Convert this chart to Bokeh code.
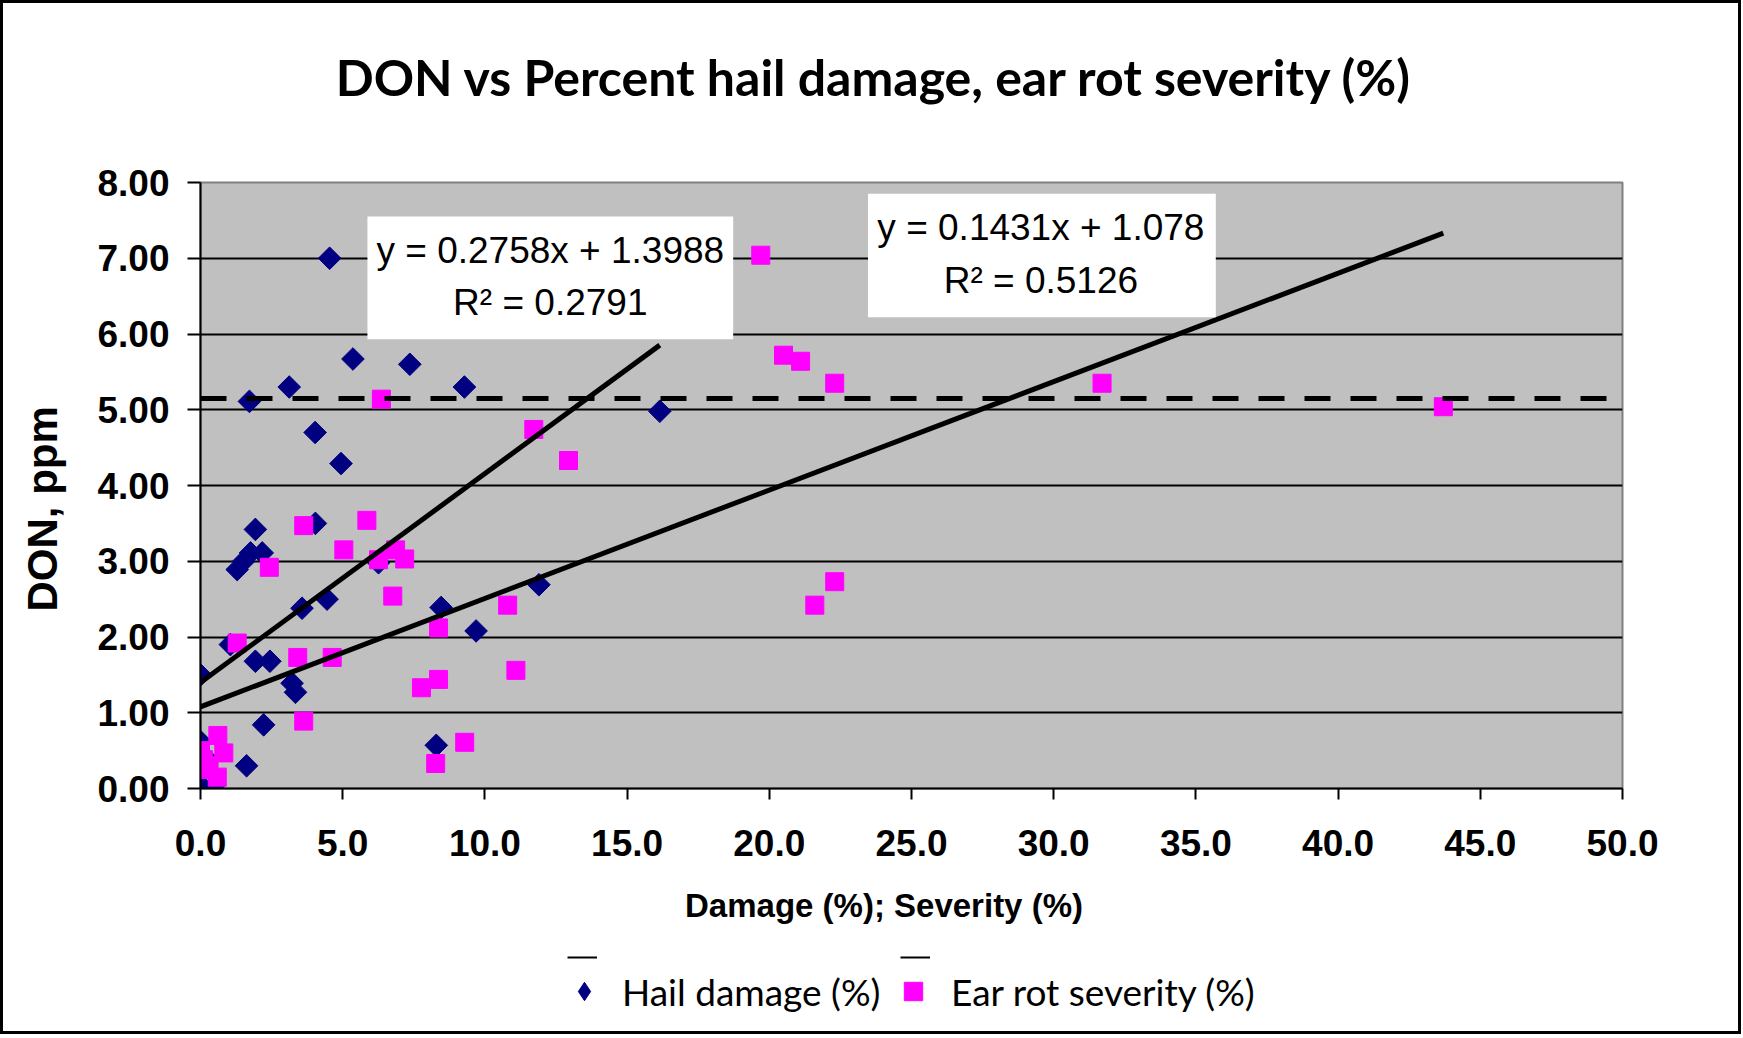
import numpy as np
from bokeh.plotting import figure
from bokeh.layouts import column
from bokeh.models import (Range1d, FixedTicker, NumeralTickFormatter, Label,
                          BoxAnnotation, Legend, LegendItem)
from bokeh.embed import file_html
from bokeh.resources import INLINE

# ---- data ----
hail_x = [4.54, 5.36, 7.36, 3.12, 9.28, 1.72, 16.15, 4.03, 4.94, 1.93, 4.04,
          1.76, 2.17, 1.52, 1.29, 6.26, 4.45, 3.57, 8.46, 11.9, 9.69, 1.05,
          1.93, 2.44, 0.0, 3.22, 3.34, 2.22, 8.29, 1.62, 0.0, 0.0, 0.5, 0.2, 0.0]
hail_y = [7.00, 5.67, 5.60, 5.30, 5.30, 5.11, 4.98, 4.70, 4.29, 3.42, 3.50,
          3.11, 3.11, 3.00, 2.89, 2.98, 2.50, 2.38, 2.39, 2.69, 2.08, 1.90,
          1.68, 1.68, 1.50, 1.39, 1.27, 0.84, 0.57, 0.30, 0.62, 0.05, 0.05, 0.40, 0.30]

rot_x = [19.7, 20.5, 21.1, 22.3, 31.7, 43.7, 6.36, 11.72, 12.94, 3.63, 5.85,
         5.04, 2.42, 6.26, 6.86, 7.18, 6.76, 10.8, 8.37, 1.29, 3.42, 4.63,
         11.09, 8.37, 7.77, 3.63, 9.29, 8.27, 22.3, 21.6, 0.61, 0.82, 0.0,
         0.0, 0.59, 0.3, 0.1]
rot_y = [7.04, 5.72, 5.64, 5.35, 5.35, 5.04, 5.14, 4.74, 4.33, 3.47, 3.54,
         3.15, 2.92, 3.02, 3.15, 3.03, 2.54, 2.42, 2.12, 1.92, 1.73, 1.73,
         1.56, 1.44, 1.33, 0.89, 0.61, 0.33, 2.73, 2.42, 0.70, 0.47, 0.50,
         0.25, 0.15, 0.30, 0.38]

hail_slope, hail_intercept, hail_r2 = 0.2758, 1.3988, 0.2791
rot_slope, rot_intercept, rot_r2 = 0.1431, 1.078, 0.5126
threshold_don = 5.15

x_ticks = [0, 5, 10, 15, 20, 25, 30, 35, 40, 45, 50]
y_ticks = [0, 1, 2, 3, 4, 5, 6, 7, 8]

title_text = "DON vs Percent hail damage, ear rot severity (%)"
x_title = "Damage (%); Severity (%)"
y_title = "DON, ppm"
hail_name = "Hail damage (%)"
rot_name = "Ear rot severity (%)"

NB = "\u00a0"
ARIAL = "Liberation Sans"
CAL = "Lato"
EDGE = "3px solid black"
BL, BR = 197, 122          # left / right borders shared by all strips
W = 1741

# ---------------- title strip ----------------
ts = figure(width=W, height=140, output_backend="svg", toolbar_location=None,
            x_axis_type=None, y_axis_type=None,
            x_range=Range1d(0, 1422), y_range=Range1d(0, 140),
            min_border_left=BL, min_border_right=BR, min_border_top=0,
            min_border_bottom=0, outline_line_color=None,
            background_fill_color="white", border_fill_color="white",
            styles={"border-left": EDGE, "border-right": EDGE, "border-top": EDGE})
ts.xgrid.grid_line_color = None
ts.ygrid.grid_line_color = None
ts.add_layout(Label(x=674, y=67, text=title_text, text_align="center",
                    text_baseline="middle", text_font=CAL, text_font_style="bold",
                    text_font_size="50px", text_color="black"))

# ---------------- main chart ----------------
p = figure(width=W, height=795, title=None,
           x_range=Range1d(x_ticks[0], x_ticks[-1]),
           y_range=Range1d(y_ticks[0], y_ticks[-1]),
           output_backend="svg", toolbar_location=None,
           min_border_left=BL, min_border_right=BR,
           min_border_top=42, min_border_bottom=147,
           background_fill_color="#C0C0C0", border_fill_color="white",
           outline_line_color="#808080", outline_line_width=2,
           styles={"border-left": EDGE, "border-right": EDGE})

# grid
p.xgrid.grid_line_color = None
p.ygrid.ticker = FixedTicker(ticks=y_ticks[1:-1])
p.ygrid.grid_line_color = "black"
p.ygrid.grid_line_width = 2

# axes
for ax in (p.xaxis[0], p.yaxis[0]):
    ax.axis_line_color = "black"
    ax.axis_line_width = 2
    ax.major_tick_line_color = "black"
    ax.major_tick_line_width = 2
    ax.major_tick_in = 0
    ax.minor_tick_line_color = None
    ax.major_label_text_font = ARIAL
    ax.major_label_text_font_style = "bold"
    ax.major_label_text_font_size = "37px"
    ax.major_label_text_color = "black"
    ax.axis_label_text_color = "black"
    ax.axis_label_text_font = ARIAL
    ax.axis_label_text_font_style = "bold"

p.xaxis.ticker = FixedTicker(ticks=x_ticks)
p.xaxis.formatter = NumeralTickFormatter(format="0.0")
p.xaxis.major_tick_out = 11
p.xaxis.major_label_standoff = 30
p.xaxis.axis_label = x_title + NB * 6
p.xaxis.axis_label_text_font_size = "33px"
p.xaxis.axis_label_standoff = 28

p.yaxis.ticker = FixedTicker(ticks=y_ticks)
p.yaxis.formatter = NumeralTickFormatter(format="0.00")
p.yaxis.major_tick_out = 13
p.yaxis.major_label_standoff = 18
p.yaxis.axis_label = y_title + NB * 4
p.yaxis.axis_label_text_font_size = "42px"
p.yaxis.axis_label_standoff = 28

# points
p.scatter(hail_x, hail_y, marker="square", angle=np.pi / 4, size=16,
          fill_color="#000080", line_color="#000080")
p.scatter(rot_x, rot_y, marker="square", size=18,
          fill_color="#FF00FF", line_color="#FF00FF")

# trend lines
hx = np.array([min(hail_x), max(hail_x)])
rx = np.array([min(rot_x), max(rot_x)])
p.line(hx, hail_slope * hx + hail_intercept, line_color="black", line_width=5)
p.line(rx, rot_slope * rx + rot_intercept, line_color="black", line_width=5)

# threshold dashed line
p.line([x_ticks[0], x_ticks[-1]], [threshold_don, threshold_don],
       line_color="black", line_width=5, line_dash="26 20")

# equation boxes
p.add_layout(BoxAnnotation(left=5.87, right=18.73, top=7.55, bottom=5.93,
                           fill_color="white", fill_alpha=1, line_color=None))
p.add_layout(BoxAnnotation(left=23.47, right=35.7, top=7.85, bottom=6.22,
                           fill_color="white", fill_alpha=1, line_color=None))

def eq_labels(xc, y1, y2, slope, intercept, r2):
    for yy, txt in ((y1, f"y = {slope}x + {intercept}"), (y2, f"R\u00b2 = {r2}")):
        p.add_layout(Label(x=xc, y=yy, text=txt, text_align="center",
                           text_baseline="middle", text_font=ARIAL,
                           text_font_size="37px", text_color="black"))

eq_labels(12.3, 7.10, 6.42, hail_slope, hail_intercept, hail_r2)
eq_labels(29.55, 7.41, 6.71, rot_slope, rot_intercept, rot_r2)

# ---------------- legend strip ----------------
# same series drawn here only to feed the legend; the strip's ranges keep them out of view
lf = figure(width=W, height=99, output_backend="svg", toolbar_location=None,
            x_axis_type=None, y_axis_type=None,
            x_range=Range1d(100, 101), y_range=Range1d(100, 101),
            min_border_left=BL, min_border_right=BR, min_border_top=0,
            min_border_bottom=0, outline_line_color=None,
            background_fill_color="white", border_fill_color="white",
            styles={"border-left": EDGE, "border-right": EDGE, "border-bottom": EDGE})
lf.xgrid.grid_line_color = None
lf.ygrid.grid_line_color = None

lg_ht = lf.line(hx, hail_slope * hx + hail_intercept, line_color="black", line_width=2)
lg_rt = lf.line(rx, rot_slope * rx + rot_intercept, line_color="black", line_width=2)
lg_hail = lf.scatter(hail_x, hail_y, marker="diamond",
                     fill_color="#000080", line_color="#000080")
lg_rot = lf.scatter(rot_x, rot_y, marker="square",
                    fill_color="#FF00FF", line_color="#FF00FF")

trend_legend = Legend(items=[LegendItem(label=" ", renderers=[lg_ht]),
                             LegendItem(label=" ", renderers=[lg_rt])],
                      orientation="horizontal", location=(367, 67),
                      border_line_color=None, background_fill_alpha=0,
                      label_text_font_size="10px",
                      glyph_width=30, glyph_height=20, label_standoff=0,
                      label_width=303, spacing=0, padding=0, margin=0)
lf.add_layout(trend_legend)

point_legend = Legend(items=[LegendItem(label=hail_name, renderers=[lg_hail]),
                             LegendItem(label=rot_name, renderers=[lg_rot])],
                      orientation="horizontal", location=(361, 20),
                      border_line_color=None, background_fill_alpha=0,
                      label_text_font=CAL, label_text_font_size="37px",
                      label_text_color="black",
                      glyph_width=46, glyph_height=46, label_standoff=15,
                      label_width=268, spacing=0, padding=0, margin=0)
lf.add_layout(point_legend)

page = column(ts, p, lf, spacing=0)
open("out.html", "w").write(file_html(page, INLINE))
